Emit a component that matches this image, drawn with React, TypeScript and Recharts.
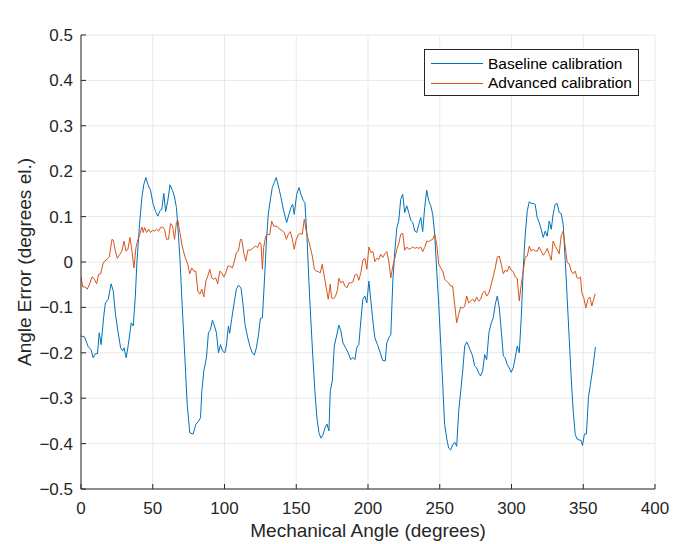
import React from 'react';
import { LineChart, Line, XAxis, YAxis, CartesianGrid } from 'recharts';

// [mechanical angle (deg), angle error (deg el.)]
const baselinePoints: [number, number][] = [
  [0, -0.163], [2.5, -0.165], [5, -0.187], [7, -0.193], [8.5, -0.211], [10, -0.202], [11.5, -0.202], [12.7, -0.156],
  [14, -0.182], [16, -0.115], [17, -0.09], [19, -0.082], [21, -0.048], [22.5, -0.064], [24, -0.115], [25.7, -0.152],
  [27.6, -0.189], [29, -0.196], [30, -0.189], [31.5, -0.211], [33, -0.182], [35, -0.134], [36.4, -0.141], [37.8, -0.079],
  [39, 0.002], [40.8, 0.083], [42.4, 0.142], [43.8, 0.171], [45.2, 0.186], [46.6, 0.171], [48.5, 0.157], [50.3, 0.127],
  [52, 0.111], [53.6, 0.101], [55, 0.113], [56.3, 0.116], [57.7, 0.151], [59, 0.111], [60.5, 0.135], [62, 0.17],
  [63.8, 0.157], [65, 0.146], [66.5, 0.12], [68, 0.054], [69, 0.005], [70.7, -0.108], [72.4, -0.211], [74, -0.314],
  [75.8, -0.376], [78.1, -0.379], [80, -0.358], [81.9, -0.351], [83.3, -0.343], [84.2, -0.285], [85.6, -0.24], [87.4, -0.211],
  [88.8, -0.156], [90.2, -0.149], [91.6, -0.128], [93, -0.141], [94.4, -0.156], [95.8, -0.2], [97.2, -0.182], [98.6, -0.196],
  [100.2, -0.2], [101.3, -0.185], [102.7, -0.141], [103.6, -0.157], [105, -0.126], [106.9, -0.086], [108.3, -0.06], [109.7, -0.051],
  [111.5, -0.057], [112.9, -0.093], [114.3, -0.138], [116.2, -0.167], [118, -0.189], [119.4, -0.2], [120.8, -0.205], [122.2, -0.189],
  [123.6, -0.163], [125, -0.124], [126.4, -0.123], [127.8, -0.042], [129.2, 0.046], [130.5, 0.105], [132, 0.138], [133.3, 0.164],
  [134.7, 0.175], [136, 0.186], [137.5, 0.168], [139.4, 0.142], [141.2, 0.113], [143.3, 0.087], [144.9, 0.105], [146.3, 0.12],
  [147.5, 0.127], [148.6, 0.105], [150.3, 0.149], [151.9, 0.164], [153.3, 0.149], [154.9, 0.135], [156, 0.131], [157.5, 0.054],
  [158.8, -0.042], [160.2, -0.13], [161.6, -0.211], [163, -0.285], [164.4, -0.343], [165.8, -0.376], [167.2, -0.388], [168.6, -0.381],
  [170, -0.366], [171.4, -0.357], [172.8, -0.372], [173.7, -0.285], [175.1, -0.262], [176.5, -0.185], [178.1, -0.163], [179.7, -0.139],
  [181.1, -0.152], [182.5, -0.178], [184.4, -0.189], [186.2, -0.2], [188, -0.215], [189.5, -0.21], [190.9, -0.215], [192.2, -0.188],
  [193.6, -0.182], [195, -0.13], [196.4, -0.082], [197.8, -0.075], [199.2, -0.09], [200.6, -0.042], [202, -0.086], [203.4, -0.13],
  [204.8, -0.167], [206.6, -0.182], [208.5, -0.2], [210.3, -0.217], [212, -0.218], [213.1, -0.178], [214.5, -0.167], [215.9, -0.16],
  [217.3, -0.042], [218.7, 0.024], [220.1, 0.076], [221.4, 0.09], [222.8, 0.138], [224.2, 0.149], [225.6, 0.109], [227, 0.124],
  [228.4, 0.109], [229.8, 0.092], [231.2, 0.087], [232.6, 0.068], [234, 0.065], [235.4, 0.083], [236.8, 0.098], [238.1, 0.067],
  [239.5, 0.12], [240.9, 0.158], [242.3, 0.135], [243.7, 0.124], [245.1, 0.105], [246.5, 0.061], [247.9, -0.02], [249.3, -0.093],
  [250.7, -0.182], [252.1, -0.27], [253.4, -0.358], [254.8, -0.388], [256.2, -0.41], [257.6, -0.414], [259, -0.403], [260.4, -0.397],
  [261.8, -0.406], [263.2, -0.329], [264.6, -0.285], [266, -0.24], [267.4, -0.185], [268.8, -0.176], [270.1, -0.185], [271.5, -0.196],
  [272.9, -0.207], [274.3, -0.229], [275.7, -0.233], [277.1, -0.244], [278.5, -0.251], [279.9, -0.24], [281.3, -0.204], [282.7, -0.215],
  [284.3, -0.155], [285.9, -0.134], [287.3, -0.123], [288.7, -0.093], [290.1, -0.075], [291.5, -0.101], [292.9, -0.152], [294.3, -0.207],
  [295.6, -0.211], [297, -0.226], [298.4, -0.233], [299.8, -0.243], [301.2, -0.233], [302.6, -0.211], [304, -0.185], [305.4, -0.2],
  [306.8, -0.123], [308.2, -0.013], [309.6, 0.061], [311, 0.113], [312.4, 0.133], [313.7, 0.129], [315.1, 0.129], [316.5, 0.127],
  [317.9, 0.098], [319.3, 0.087], [320.7, 0.072], [322.1, 0.054], [323.5, 0.068], [324.9, 0.057], [326.3, 0.09], [327.7, 0.072],
  [329, 0.105], [330.4, 0.127], [331.8, 0.129], [333.2, 0.109], [334.6, 0.107], [336, 0.083], [337.4, 0.006], [338.8, -0.079],
  [340.2, -0.167], [341.6, -0.255], [343, -0.329], [344.4, -0.38], [345.7, -0.39], [347.1, -0.392], [348.5, -0.393], [349.5, -0.404],
  [350.8, -0.379], [352.2, -0.379], [353.6, -0.299], [355, -0.27], [356.4, -0.24], [358.5, -0.187],
];

const advancedPoints: [number, number][] = [
  [0, -0.033], [1.2, -0.055], [3, -0.055], [4.4, -0.06], [6.3, -0.046], [7.7, -0.033], [9, -0.036], [10.9, -0.048],
  [12.3, -0.027], [13.7, -0.026], [15.5, -0.001], [17.4, 0.004], [19.7, 0.011], [21.6, 0.05], [22.5, 0.048], [24, 0.024],
  [25.3, 0.008], [27.1, 0.017], [28.5, 0.024], [30, 0.046], [31.3, 0.024], [32.7, 0.028], [34.1, 0.054], [35.5, 0.024],
  [36.9, -0.013], [38.3, 0.032], [39.7, 0.05], [41, 0.061], [42.4, 0.077], [43.4, 0.065], [44.3, 0.076], [45.7, 0.065],
  [47, 0.072], [48.5, 0.065], [49.9, 0.07], [51.2, 0.068], [52.6, 0.072], [54, 0.068], [55.4, 0.076], [56.8, 0.077],
  [58.2, 0.072], [59.6, 0.05], [61, 0.05], [62.4, 0.085], [63.8, 0.079], [65.2, 0.05], [66.5, 0.087], [67.5, 0.092],
  [68.9, 0.065], [70.5, 0.035], [72.6, 0.01], [74.4, -0.005], [75.8, -0.026], [77.2, -0.013], [78.6, -0.02], [80, -0.02],
  [81.4, -0.064], [82.8, -0.071], [84.2, -0.06], [85.6, -0.077], [87, -0.042], [88.4, -0.031], [89.7, -0.016], [91.1, -0.035],
  [92.5, -0.038], [93.9, -0.035], [95.3, -0.048], [96.7, -0.02], [98.1, -0.024], [99.5, -0.033], [100.9, -0.024], [102.3, -0.009],
  [103.7, -0.009], [105.5, -0.013], [106.9, 0.002], [108.3, 0.021], [109.7, 0.024], [111.1, 0.05], [112, 0.05], [113.4, 0.021],
  [114.8, 0.002], [116.2, 0.026], [117.6, 0.026], [119, 0.028], [120.3, 0.032], [121.7, 0.035], [123.1, 0.032], [124.5, 0.043],
  [125.5, 0.038], [126.4, -0.016], [127.3, 0.032], [128.7, 0.057], [130.1, 0.061], [131.5, 0.06], [132.9, 0.09], [134.3, 0.079],
  [135.7, 0.079], [137.1, 0.077], [138.4, 0.072], [139.8, 0.07], [141.7, 0.065], [143.1, 0.05], [144.5, 0.061], [145.9, 0.067],
  [147.3, 0.05], [148.6, 0.028], [150, 0.05], [151.4, 0.06], [152.8, 0.063], [154.2, 0.061], [155.6, 0.094], [157, 0.068],
  [158.4, 0.05], [159.8, 0.032], [161.2, 0.013], [162.6, -0.016], [163.9, -0.02], [165.3, -0.021], [166.7, -0.024], [168.1, -0.005],
  [169.5, -0.031], [170.9, -0.057], [172.3, -0.082], [173.7, -0.049], [174.6, -0.079], [176, -0.081], [177.4, -0.075], [178.8, -0.06],
  [179.7, -0.036], [181.1, -0.046], [182.5, -0.042], [183.9, -0.053], [185.3, -0.057], [186.7, -0.046], [188, -0.046], [189.5, -0.044],
  [190.8, -0.029], [192.2, -0.027], [193.6, -0.04], [195, -0.024], [196.4, 0.004], [197.8, 0.008], [199.2, -0.016], [200.6, 0.033],
  [202, 0.021], [203.4, 0.023], [204.8, 0.001], [206.1, 0.008], [207.5, 0.006], [208.9, 0.017], [210.3, 0.01], [211.7, 0.018],
  [213.1, 0.023], [214.5, 0.002], [215.9, -0.035], [217.3, -0.009], [218.7, 0.008], [220.1, 0.028], [221.4, 0.04], [222.8, 0.061],
  [224.2, 0.063], [225.6, 0.026], [227, 0.033], [228.4, 0.028], [229.8, 0.03], [231.2, 0.033], [232.6, 0.03], [234, 0.032],
  [235.4, 0.03], [236.8, 0.033], [238.1, 0.023], [239.5, 0.032], [240.9, 0.046], [242.3, 0.045], [243.7, 0.048], [245.1, 0.05],
  [246.5, 0.061], [247.9, 0.039], [249.3, -0.005], [250.7, -0.013], [252.1, -0.02], [253.4, -0.038], [254.8, -0.042], [256.2, -0.046],
  [257.6, -0.053], [259, -0.053], [260.4, -0.093], [261.8, -0.134], [263.2, -0.115], [264.6, -0.099], [266, -0.102], [267.4, -0.097],
  [268.8, -0.075], [270.1, -0.09], [271.5, -0.086], [272.9, -0.082], [274.3, -0.088], [275.7, -0.077], [277.1, -0.086], [278.5, -0.082],
  [279.9, -0.068], [281.3, -0.064], [282.7, -0.075], [284.3, -0.068], [285.9, -0.049], [287.3, -0.031], [288.7, -0.013], [290.1, 0.011],
  [291.5, 0.013], [292.9, -0.005], [294.3, -0.026], [295.6, -0.018], [297, -0.021], [298.4, -0.009], [299.8, -0.018], [301.2, -0.021],
  [302.6, -0.033], [304, -0.036], [305.4, -0.086], [306.8, -0.049], [308.2, -0.02], [309.6, 0.011], [311, 0.013], [312.4, 0.035],
  [313.7, 0.024], [315.1, 0.028], [316.5, 0.024], [317.9, 0.024], [319.3, 0.033], [320.7, 0.024], [322.1, 0.015], [323.5, 0.021],
  [324.9, 0.03], [326.3, 0.017], [327.7, 0.004], [329, 0.046], [330.4, 0.035], [331.8, 0.028], [333.2, 0.018], [334.6, 0.057],
  [336, 0.068], [337.4, 0.035], [338.8, -0.001], [340.2, -0.004], [341.6, -0.02], [343, -0.026], [344.4, -0.02], [345.7, -0.035],
  [347.1, -0.036], [348.1, -0.033], [349, -0.068], [350.4, -0.079], [351.8, -0.101], [353.2, -0.082], [354.6, -0.077], [356, -0.097],
  [358.3, -0.07],
];

const xTicks = [0, 50, 100, 150, 200, 250, 300, 350, 400];
const yTicks = [-0.5, -0.4, -0.3, -0.2, -0.1, 0, 0.1, 0.2, 0.3, 0.4, 0.5];
const seriesNames = ['Baseline calibration', 'Advanced calibration'];
const seriesColors = ['#0072BD', '#D95319'];
const titleText = 'Angular Accuracy';
const xLabelText = 'Mechanical Angle (degrees)';
const yLabelText = 'Angle Error (degrees el.)';

const baselineData = baselinePoints.map(([angle, error]) => ({ angle, error }));
const advancedData = advancedPoints.map(([angle, error]) => ({ angle, error }));

const FONT = '"Liberation Sans", Arial, Helvetica, sans-serif';
const INK = '#262626';

const fmtY = (v: number) => {
  if (Math.abs(v) < 1e-9) return '0';
  const s = Math.abs(v).toFixed(1);
  return v < 0 ? '\u2212' + s : s;
};

const LegendBox = () => (
  <div
    style={{
      position: 'absolute',
      left: 424,
      top: 49,
      width: 215,
      height: 47,
      boxSizing: 'border-box',
      border: `1px solid ${INK}`,
      background: '#fff',
      fontFamily: FONT,
      fontSize: 15.5,
      color: '#000',
      paddingTop: 4,
    }}
  >
    {seriesNames.map((name, i) => (
      <div key={name} style={{ display: 'flex', alignItems: 'center', height: 19.5 }}>
        <div style={{ width: 52, height: 0, borderTop: `1px solid ${seriesColors[i]}`, marginLeft: 6, marginRight: 5 }} />
        <span style={{ whiteSpace: 'nowrap' }}>{name}</span>
      </div>
    ))}
  </div>
);

export default function App() {
  return (
    <div style={{ position: 'absolute', left: 0, top: 0, width: 681, height: 544, background: '#fff' }}>
      <LineChart width={681} height={544} margin={{ top: 35, right: 26, bottom: 0, left: 0 }}>
        <CartesianGrid stroke="#e9e9e9" strokeWidth={1} />
        <XAxis
          type="number"
          dataKey="angle"
          domain={[0, 400]}
          ticks={xTicks}
          interval={0}
          height={55}
          allowDataOverflow
          axisLine={{ stroke: INK, strokeWidth: 1 }}
          tickLine={{ stroke: INK, strokeWidth: 1 }}
          tickSize={-5}
          tickMargin={18}
          tick={{ fill: INK, fontSize: 17, fontFamily: FONT }}
          label={{
            content: (p: any) => {
              const vb = p.viewBox || {};
              return (
                <text x={vb.x + vb.width / 2} y={vb.y + 48} textAnchor="middle" fill={INK} fontSize={19} fontFamily={FONT}>
                  {xLabelText}
                </text>
              );
            },
          }}
        />
        <XAxis
          xAxisId="top"
          orientation="top"
          type="number"
          dataKey="angle"
          domain={[0, 400]}
          ticks={xTicks}
          interval={0}
          height={0}
          axisLine={{ stroke: INK, strokeWidth: 1 }}
          tickLine={{ stroke: INK, strokeWidth: 1 }}
          tickSize={-5}
          tickFormatter={() => ''}
          label={{
            content: (p: any) => {
              const vb = p.viewBox || {};
              return (
                <text x={vb.x + vb.width / 2} y={vb.y - 10} textAnchor="middle" fill="#000" fontSize={19} fontWeight="bold" fontFamily={FONT}>
                  {titleText}
                </text>
              );
            },
          }}
        />
        <YAxis
          type="number"
          domain={[-0.5, 0.5]}
          ticks={yTicks}
          interval={0}
          width={81}
          allowDataOverflow
          axisLine={{ stroke: INK, strokeWidth: 1 }}
          tickLine={{ stroke: INK, strokeWidth: 1 }}
          tickSize={-5}
          tickMargin={13}
          tickFormatter={fmtY}
          tick={{ fill: INK, fontSize: 17, fontFamily: FONT }}
          label={{
            content: (p: any) => {
              const vb = p.viewBox || {};
              const cx = 31;
              const cy = vb.y + vb.height / 2;
              return (
                <text x={cx} y={cy} transform={`rotate(-90, ${cx}, ${cy})`} textAnchor="middle" fill={INK} fontSize={19} fontFamily={FONT}>
                  {yLabelText}
                </text>
              );
            },
          }}
        />
        <YAxis
          yAxisId="right"
          orientation="right"
          type="number"
          domain={[-0.5, 0.5]}
          ticks={yTicks}
          interval={0}
          width={0}
          axisLine={{ stroke: INK, strokeWidth: 1 }}
          tickLine={{ stroke: INK, strokeWidth: 1 }}
          tickSize={-5}
          tickFormatter={() => ''}
        />
        <Line
          data={baselineData}
          dataKey="error"
          name={seriesNames[0]}
          stroke={seriesColors[0]}
          strokeWidth={1}
          dot={false}
          type="linear"
          isAnimationActive={false}
        />
        <Line
          data={advancedData}
          dataKey="error"
          name={seriesNames[1]}
          stroke={seriesColors[1]}
          strokeWidth={1}
          dot={false}
          type="linear"
          isAnimationActive={false}
        />
      </LineChart>
      <LegendBox />
    </div>
  );
}
